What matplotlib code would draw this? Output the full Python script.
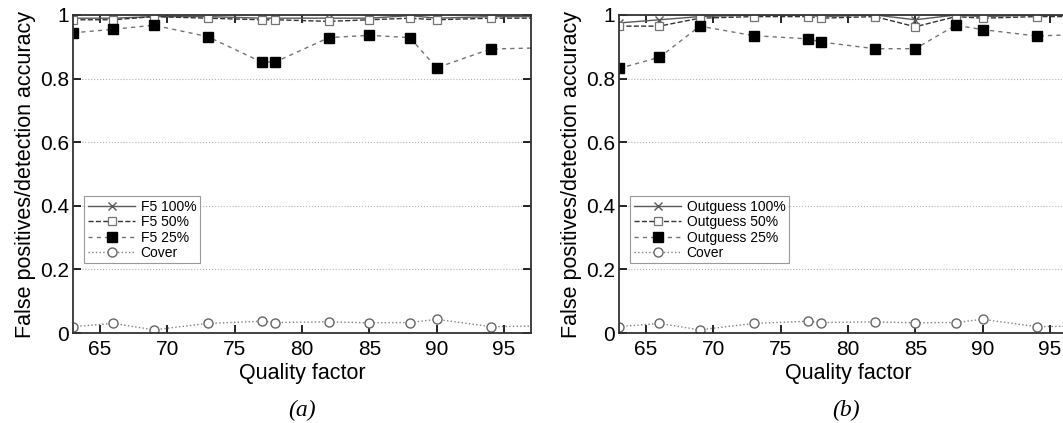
import matplotlib.pyplot as plt

plt.rcParams['font.family'] = ['Liberation Sans', 'DejaVu Sans']

quality = [63, 66, 69, 73, 77, 78, 82, 85, 88, 90, 94, 98]

f5_100 = [0.99, 0.99, 0.995, 0.995, 0.99, 0.99, 0.99, 0.99, 0.998, 0.99, 0.995, 0.995]
f5_50 = [0.985, 0.985, 0.995, 0.99, 0.985, 0.985, 0.98, 0.985, 0.99, 0.985, 0.99, 0.99]
f5_25 = [0.944, 0.955, 0.968, 0.932, 0.852, 0.852, 0.929, 0.936, 0.929, 0.834, 0.893, 0.897]
f5_cover = [0.02, 0.03, 0.01, 0.03, 0.037, 0.033, 0.035, 0.032, 0.033, 0.043, 0.02, 0.022]

og_100 = [0.975, 0.985, 0.995, 1.0, 1.0, 0.995, 1.0, 0.985, 1.0, 0.995, 1.0, 1.0]
og_50 = [0.965, 0.965, 0.99, 0.995, 0.995, 0.99, 0.995, 0.963, 0.995, 0.99, 0.995, 0.995]
og_25 = [0.832, 0.867, 0.965, 0.935, 0.925, 0.915, 0.894, 0.894, 0.968, 0.954, 0.934, 0.94]
og_cover = [0.02, 0.03, 0.01, 0.03, 0.037, 0.033, 0.035, 0.032, 0.033, 0.043, 0.02, 0.022]

yticks = [0, 0.2, 0.4, 0.6, 0.8, 1]
ytick_labels = ['0', '0.2', '0.4', '0.6', '0.8', '1']
xticks = [65, 70, 75, 80, 85, 90, 95]

W, H = 1063, 423
fig = plt.figure(figsize=(W / 100, H / 100), dpi=100)


def panel(left, series, names, caption, cap_x, leg_w):
    ax = fig.add_axes([left / W, (H - 333) / H, 458 / W, 318 / H])
    s100, s50, s25, cov = series
    ax.plot(quality, s100, '-', color='0.35', lw=1.0, marker='x', ms=6,
            mec='0.35', mew=1.0, label=names[0])
    ax.plot(quality, s50, '--', color='0.2', lw=1.0, marker='s', ms=5.5,
            mfc='white', mec='0.45', mew=0.9, label=names[1])
    ax.plot(quality, s25, color='0.45', lw=1.0, ls=(0, (3, 3)), marker='s', ms=6.5,
            mfc='black', mec='black', label=names[2])
    ax.plot(quality, cov, ':', color='0.5', lw=1.0, marker='o', ms=6.5,
            mfc='white', mec='0.4', mew=1.0, label=names[3])

    ax.set_xlim(63, 97)
    ax.set_ylim(0, 1)
    ax.set_xticks(xticks)
    ax.set_yticks(yticks)
    ax.set_yticklabels(ytick_labels)
    ax.tick_params(direction='in', length=6, width=1.2, labelsize=15,
                   top=True, right=True, pad=3)
    ax.tick_params(axis='x', pad=5)
    for sp in ax.spines.values():
        sp.set_linewidth(1.3)
        sp.set_color('0.2')
    ax.yaxis.grid(True, ls=':', color='0.7', lw=0.8)
    ax.set_xlabel('Quality factor', fontsize=15.5, labelpad=3)
    ax.set_ylabel('False positives/detection accuracy', fontsize=15.5, labelpad=3)
    leg = ax.legend(loc='upper left', bbox_to_anchor=(0.025, 0.43),
                    fontsize=10, frameon=True, fancybox=False,
                    edgecolor='0.5', handlelength=3.4, borderpad=0.25,
                    labelspacing=0.1, handletextpad=0.4, borderaxespad=0)
    leg.get_frame().set_linewidth(0.8)
    fig.text(cap_x / W, 1 - 410 / H, caption, ha='center', va='center',
             fontsize=17, family=['Liberation Serif', 'DejaVu Serif'],
             style='italic')
    return ax


panel(73, (f5_100, f5_50, f5_25, f5_cover),
      ['F5 100%', 'F5 50%', 'F5 25%', 'Cover'], '(a)', 302, 128)
panel(619, (og_100, og_50, og_25, og_cover),
      ['Outguess 100%', 'Outguess 50%', 'Outguess 25%', 'Cover'], '(b)', 846, 184)

fig.savefig('out.png', dpi=100)
